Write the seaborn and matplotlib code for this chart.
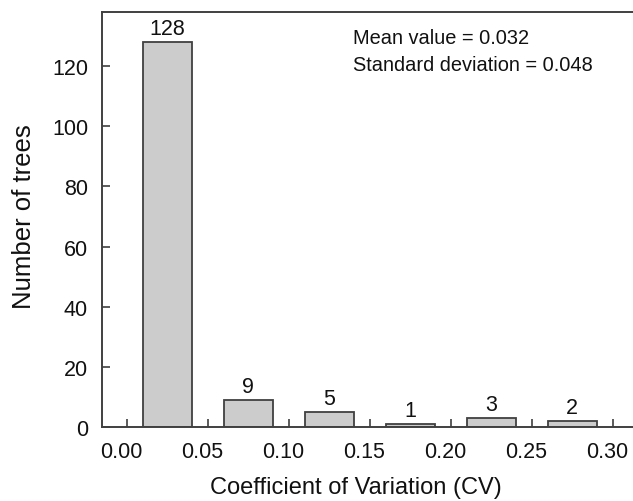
import matplotlib
matplotlib.use("Agg")
import matplotlib.pyplot as plt
import matplotlib.transforms as mtransforms
import seaborn as sns
import pandas as pd

bin_centers = [0.025, 0.075, 0.125, 0.175, 0.225, 0.275]
counts = [128, 9, 5, 1, 3, 2]
x_ticks = [0.00, 0.05, 0.10, 0.15, 0.20, 0.25, 0.30]
y_ticks = [0, 20, 40, 60, 80, 100, 120]
stats_text = "Mean value = 0.032\nStandard deviation = 0.048"

sns.set_theme(style="ticks")
plt.rcParams['font.family'] = ['Liberation Sans', 'DejaVu Sans']

df = pd.DataFrame({"cv": bin_centers, "n": counts})

fig = plt.figure(figsize=(6.33, 5.02), dpi=100)
ax = fig.add_axes([102/633, 1-428/502, 1-102/633, (428-13)/502])

sns.barplot(data=df, x="cv", y="n", native_scale=True, width=0.6,
            color="#cccccc", edgecolor="#404040", linewidth=1.3,
            saturation=1, ax=ax)

for c in ax.containers:
    ax.bar_label(c, padding=2, fontsize=15.5, color="#111111")

ax.set_xlim(-0.0154, 0.3125)
ax.set_ylim(0, 138)
ax.set_xticks(x_ticks)
ax.set_xticklabels([f"{v:.2f}" for v in x_ticks])
ax.set_yticks(y_ticks)
ax.tick_params(direction="in", length=6, width=1.2, colors="#404040",
               labelcolor="#111111", labelsize=15.5, pad=10)
offset = mtransforms.ScaledTranslation(-6/100, 0, fig.dpi_scale_trans)
for lbl in ax.get_xticklabels():
    lbl.set_transform(lbl.get_transform() + offset)
for s in ["left", "bottom", "top"]:
    ax.spines[s].set_color("#404040")
    ax.spines[s].set_linewidth(1.4)
ax.spines["right"].set_visible(False)

ax.set_xlabel("Coefficient of Variation (CV)", fontsize=17, color="#111111")
ax.xaxis.set_label_coords(0.478, -0.117)
ax.set_ylabel("Number of trees", fontsize=18.5, color="#111111")
ax.yaxis.set_label_coords(-0.124, 0.51)

ax.text(0.1395, 132.8, stats_text, fontsize=14.4, color="#111111",
        va="top", ha="left", linespacing=1.55)

fig.savefig("out.png", dpi=100)
